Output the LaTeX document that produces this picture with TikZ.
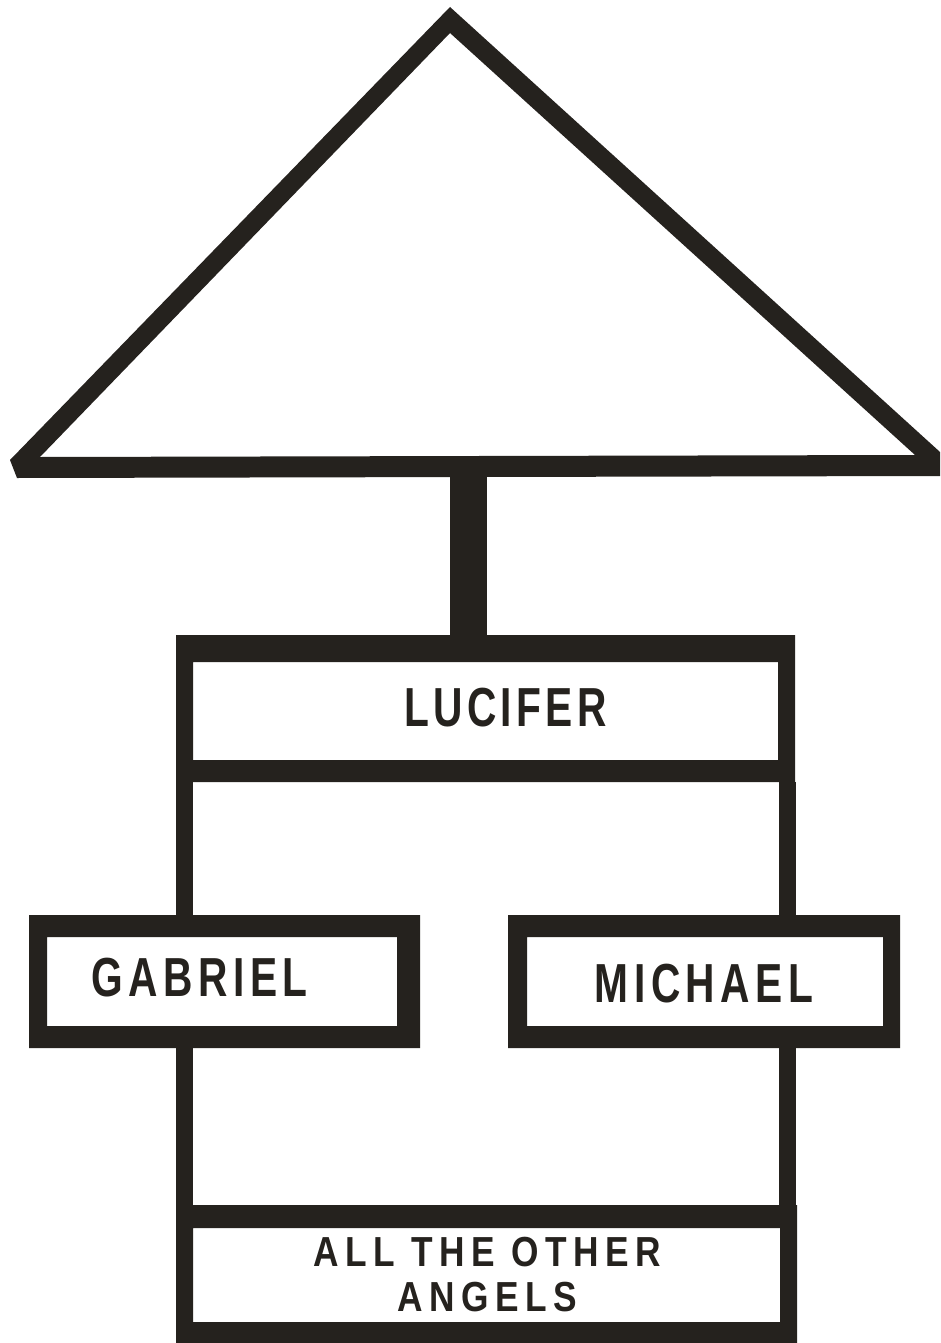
\documentclass[tikz,border=0pt]{standalone}
\usepackage{fontspec}
\newfontfamily\lab[FakeStretch=0.74,LetterSpace=8]{Liberation Sans}
\newfontfamily\labw[FakeStretch=0.74,LetterSpace=10]{Liberation Sans}
\newfontfamily\labs[FakeStretch=0.84,LetterSpace=15.5]{Liberation Sans}
\definecolor{ink}{RGB}{37,34,30}
\begin{document}
\begin{tikzpicture}[x=1pt,y=-1pt,
  inbox/.style={draw=none,inner sep=0pt,outer sep=0pt,rectangle},
  lbl/.style={inner sep=0pt,text=ink,font=\lab\bfseries\fontsize{55}{60}\selectfont},
  wlbl/.style={inner sep=0pt,text=ink,font=\labw\bfseries\fontsize{55}{60}\selectfont},
  slbl/.style={inner sep=0pt,text=ink,align=center,font=\labs\bfseries\fontsize{42}{45}\selectfont},
  vconn/.style={draw=ink,line width=17pt},
  frame/.style={fill=ink,even odd rule}]
\fill[white] (0,0) rectangle (940,1343);
\useasboundingbox (0,0) rectangle (940,1343);
% triangle
\fill[frame] (450,7) -- (940,452) -- (940,476) -- (17,478) -- (10,460) -- cycle
             (450,33) -- (915,455) -- (40,457) -- cycle;
\coordinate (tribase) at (468.5,476);
% boxes (inner white areas)
\node[inbox,minimum width=585pt,minimum height=98pt] (luc) at (485.5,711) {};
\node[inbox,minimum width=350pt,minimum height=89pt] (gab) at (222,981.5) {};
\node[inbox,minimum width=356pt,minimum height=89pt] (mic) at (705,981.5) {};
\node[inbox,minimum width=587pt,minimum height=94pt] (all) at (486.5,1275) {};
\coordinate (luctop) at ([yshift=27pt]luc.north);
% frames
\fill[frame] ([xshift=-17pt,yshift=27pt]luc.north west) rectangle ([xshift=17pt,yshift=-22pt]luc.south east)
             (luc.north west) rectangle (luc.south east);
\fill[frame] ([xshift=-18pt,yshift=22pt]gab.north west) rectangle ([xshift=23pt,yshift=-22pt]gab.south east)
             (gab.north west) rectangle (gab.south east);
\fill[frame] ([xshift=-19pt,yshift=22pt]mic.north west) rectangle ([xshift=17pt,yshift=-22pt]mic.south east)
             (mic.north west) rectangle (mic.south east);
\fill[frame] ([xshift=-17pt,yshift=23pt]all.north west) rectangle ([xshift=17pt,yshift=-21pt]all.south east)
             (all.north west) rectangle (all.south east);
% stem
\draw[draw=ink,line width=37pt] (tribase) -- (tribase |- luctop);
% connectors
\draw[vconn] ([xshift=-8.5pt,yshift=-22pt]luc.south west) -- ([xshift=-8.5pt,yshift=22pt]luc.south west |- gab.north);
\draw[vconn] ([xshift=-8.5pt,yshift=-22pt]all.north west |- gab.south) -- ([xshift=-8.5pt,yshift=23pt]all.north west);
\draw[vconn] ([xshift=9.5pt,yshift=-22pt]luc.south east) -- ([xshift=9.5pt,yshift=22pt]luc.south east |- mic.north);
\draw[vconn] ([xshift=9.5pt,yshift=-22pt]luc.south east |- mic.south) -- ([xshift=9.5pt,yshift=23pt]luc.south east |- all.north);
% labels
\node[lbl] (luct) at (505.5,707.5) {LUCIFER};
\node[wlbl] (gabt) at (199.5,977.5) {GABRIEL};
\node[wlbl] (mict) at (704,983.5) {MICHAEL};
\node[slbl] (allt) at (487,1275) {ALL THE OTHER\\ANGELS};
\end{tikzpicture}
\end{document}
